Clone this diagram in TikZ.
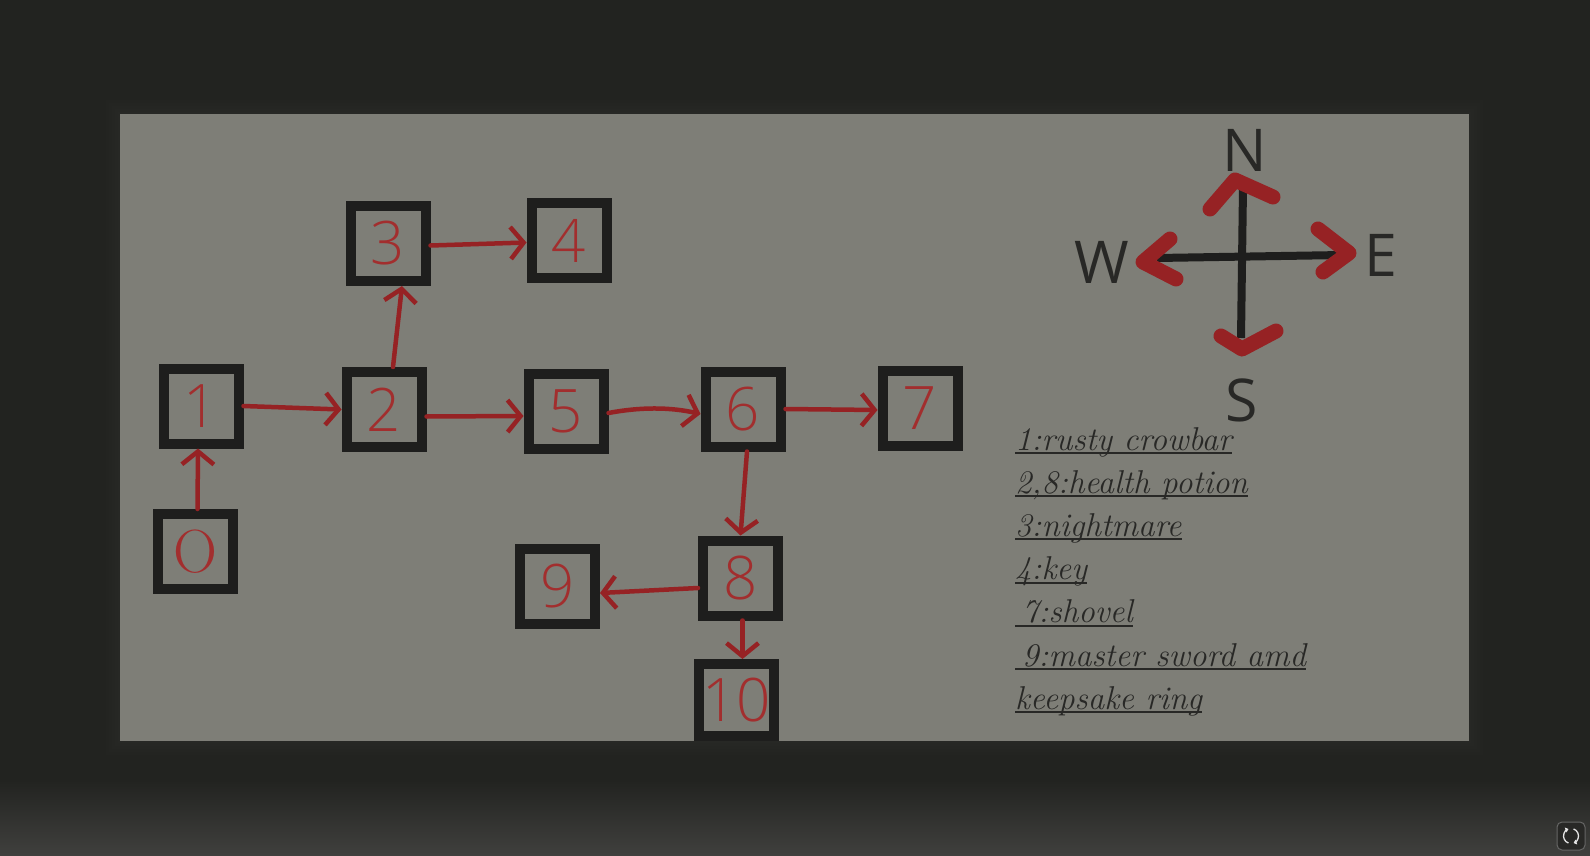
\documentclass[tikz,border=0pt]{standalone}
\usepackage{fontspec}
\newfontfamily\signfont{Open Sans Light}
\newfontfamily\dirfont{Open Sans}
\usetikzlibrary{arrows.meta}

\definecolor{wallgray}{RGB}{34,35,32}
\definecolor{floorgray}{RGB}{64,64,62}
\definecolor{boardgray}{RGB}{126,126,119}
\definecolor{redink}{RGB}{150,34,36}
\definecolor{digitred}{RGB}{162,46,46}
\definecolor{inkblack}{RGB}{30,30,29}
\definecolor{pengray}{RGB}{40,40,38}

\begin{document}
\begin{tikzpicture}[x=1pt, y=-1pt,
  room/.style={draw=inkblack, line width=10pt, minimum size=75pt, inner sep=0pt,
               font=\signfont\fontsize{60}{60}\selectfont, text=digitred},
  arr/.style={draw=redink, line width=4.5pt, line cap=round, line join=round,
              -{Straight Barb[length=13pt,width=32pt]}},
  cross/.style={draw=inkblack, line width=8pt},
  chev/.style={draw=redink, line width=15pt, line cap=round, line join=round},
  compass/.style={font=\dirfont\fontsize{59}{59}\selectfont, text=pengray, inner sep=0pt},
  legend/.style={font=\itshape\fontsize{33}{33}\selectfont, text=pengray, inner sep=0pt, anchor=base west},
  uline/.style={draw=pengray, line width=2pt}
]
  \useasboundingbox (0,0) rectangle (1590,856);

  % wall and board
  \fill[wallgray] (0,0) rectangle (1590,856);
  \shade[top color=wallgray, bottom color=floorgray] (0,780) rectangle (1590,856);
  \foreach \g in {14,11,8,5,2}
    \fill[boardgray, opacity=0.02] (120-\g,114-\g) rectangle (1469+\g,741+\g);
  \fill[boardgray] (120,114) rectangle (1469,741);

  % rooms
  \node[room, font=\fontsize{61}{61}\selectfont] (b0) at (195.5,551.5) {O};
  \node[room] (b1) at (201,406) {1};
  \node[room] (b2) at (384,409.5) {2};
  \node[room] (b3) at (388,243.5) {3};
  \node[room] (b4) at (569,240.5) {4};
  \node[room] (b5) at (566,411) {5};
  \node[room] (b6) at (743,409) {6};
  \node[room] (b7) at (920,408) {7};
  \node[room] (b8) at (740.5,578) {8};
  \node[room] (b9) at (557.5,586) {9};
  \node[room, minimum height=72pt] (b10) at (736.5,700) {10};

  % paths between rooms
  \draw[arr] ([xshift=2pt]b0.north) -- ([xshift=-3pt]b1.south);
  \draw[arr] (b1.east) -- (b2.west);
  \draw[arr] ([xshift=9pt]b2.north) -- ([xshift=14pt]b3.south);
  \draw[arr] ([yshift=-2pt]b3.east) -- ([yshift=-2pt]b4.west);
  \draw[arr] ([yshift=-7pt]b2.east) -- ([yshift=-5pt]b5.west);
  \draw[arr] ([yshift=-2pt]b5.east) .. controls (640,407) and (670,407) .. ([yshift=-5pt]b6.west);
  \draw[arr] (b6.east) -- ([yshift=-2pt]b7.west);
  \draw[arr] ([xshift=4pt]b6.south) -- (b8.north);
  \draw[arr] ([yshift=-10pt]b8.west) -- ([yshift=-7pt]b9.east);
  \draw[arr] ([xshift=2pt]b8.south) -- ([xshift=6pt]b10.north);

  % compass
  \coordinate (cN) at (1243,187);
  \coordinate (cS) at (1241,338);
  \coordinate (cW) at (1157,258);
  \coordinate (cE) at (1343,255);
  \draw[cross] (cN) -- (cS);
  \draw[cross] (cW) -- (cE);
  \draw[chev] (1210,209) -- (1235,180) -- (1273,197);
  \draw[chev] (1318,229) -- (1349,253) -- (1323,272);
  \draw[chev] (1170,239) -- (1143,262) -- (1176,279);
  \draw[chev] (1221,336) -- (1242,349) -- (1276,331);
  \node[compass] (lblN) at (1245,150) {N};
  \node[compass] (lblS) at (1242,400) {S};
  \node[compass] (lblW) at (1102,262) {W};
  \node[compass] (lblE) at (1381,255) {E};

  % item list
  \foreach \txt [count=\i] in {1:rusty crowbar, {2,8:health potion}, 3:nightmare, 4:key,
      \hspace*{7pt}7:shovel, \hspace*{7pt}9:master sword amd, keepsake ring} {
    \node[legend] (item\i) at (1015,{450+43.2*(\i-1)}) {\txt};
    \draw[uline] ([yshift=-3pt]item\i.base west) -- ([yshift=-3pt]item\i.base east);
  }

  % reload badge
  \node[draw=floorgray!80!white, fill=pengray, rounded corners=5pt, line width=1pt,
        minimum size=28pt] (reload) at (1571,836) {};
  \draw[white!80!gray, line width=1.3pt, -{Triangle[length=3pt,width=5pt]}]
    ([shift={(110:7.5)}]reload.center) arc[start angle=110, end angle=250, radius=7.5];
  \draw[white!80!gray, line width=1.3pt, -{Triangle[length=3pt,width=5pt]}]
    ([shift={(290:7.5)}]reload.center) arc[start angle=290, end angle=430, radius=7.5];
\end{tikzpicture}
\end{document}
